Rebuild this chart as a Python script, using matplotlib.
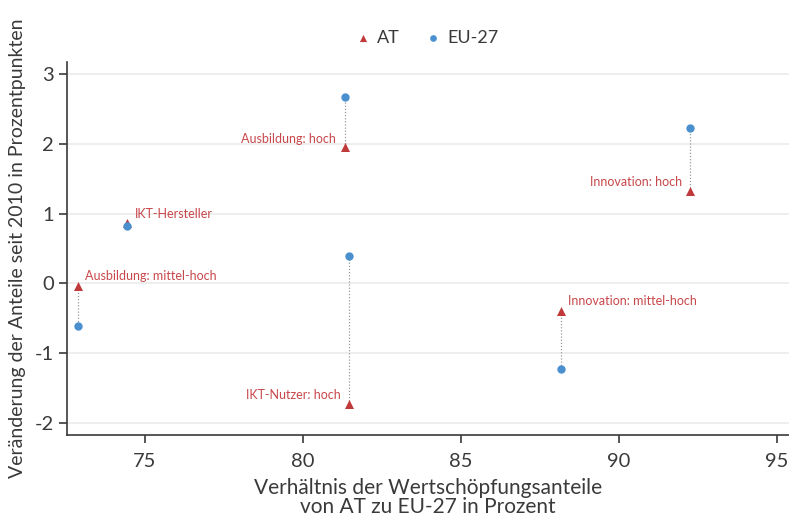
import matplotlib
matplotlib.use("Agg")
import matplotlib.pyplot as plt

labels = ["Ausbildung: mittel-hoch", "IKT-Hersteller", "Ausbildung: hoch",
          "IKT-Nutzer: hoch", "Innovation: mittel-hoch", "Innovation: hoch"]
ratio = [72.91, 74.46, 81.33, 81.46, 88.16, 92.25]
at_change = [-0.04, 0.87, 1.95, -1.73, -0.39, 1.33]
eu_change = [-0.61, 0.82, 2.67, 0.40, -1.23, 2.22]
x_ticks = [75, 80, 85, 90, 95]
y_ticks = [-2, -1, 0, 1, 2, 3]

# label placement: (ha, dx points, dy points)
label_pos = {
    "Ausbildung: mittel-hoch": ("left", 5, 3),
    "IKT-Hersteller": ("left", 5, 2),
    "Ausbildung: hoch": ("right", -6, 2),
    "IKT-Nutzer: hoch": ("right", -6, 2),
    "Innovation: mittel-hoch": ("left", 5, 3),
    "Innovation: hoch": ("right", -6, 2),
}

plt.rcParams['font.family'] = ['Lato', 'DejaVu Sans']
plt.rcParams['axes.unicode_minus'] = False

RED = "#C0393B"
BLUE = "#4A90CF"
LBL = "#C8474A"
DARK = "#3A3A3A"

fig = plt.figure(figsize=(7.89, 5.20), dpi=100)
ax = fig.add_axes([0.085, 0.1635, 0.915, 0.717])

for xv, a, e in zip(ratio, at_change, eu_change):
    ax.plot([xv, xv], [a, e], linestyle=(0, (1, 1.5)), color="#9a9a9a", lw=0.9, zorder=2)

ax.scatter(ratio, at_change, marker="^", s=42, color=RED, zorder=3, label="AT", linewidths=0)
ax.scatter(ratio, eu_change, marker="o", s=36, color=BLUE, zorder=4, label="EU-27", linewidths=0)

for lab, xv, a in zip(labels, ratio, at_change):
    ha, dx, dy = label_pos[lab]
    ax.annotate(lab, (xv, a), xytext=(dx, dy), textcoords="offset points",
                ha=ha, va="bottom", fontsize=9, color=LBL)

ax.set_xlim(72.55, 95.38)
ax.set_ylim(-2.17, 3.17)
ax.set_xticks(x_ticks)
ax.set_yticks(y_ticks)
ax.grid(axis="y", color="#EBEBEB", lw=1.2)
ax.set_axisbelow(True)
for s in ["top", "right"]:
    ax.spines[s].set_visible(False)
for s in ["left", "bottom"]:
    ax.spines[s].set_color(DARK)
    ax.spines[s].set_linewidth(1.2)
ax.tick_params(axis="both", colors=DARK, labelsize=14.5, length=6, width=1.2)
ax.tick_params(axis="x", pad=7)

ax.set_xlabel("Verhältnis der Wertschöpfungsanteile\nvon AT zu EU-27 in Prozent",
              fontsize=15, color=DARK, linespacing=0.92, labelpad=6)
ax.set_ylabel("Veränderung der Anteile seit 2010 in Prozentpunkten",
              fontsize=14, color=DARK, labelpad=6)

leg = fig.legend(handles=ax.get_legend_handles_labels()[0],
                 labels=["AT", "EU-27"], loc="center", bbox_to_anchor=(0.54, 0.927),
                 ncol=2, frameon=False, fontsize=13, markerscale=0.8,
                 handletextpad=0.3, columnspacing=1.3, handlelength=1.0)
for t in leg.get_texts():
    t.set_color(DARK)

fig.savefig("out.png", dpi=100)
